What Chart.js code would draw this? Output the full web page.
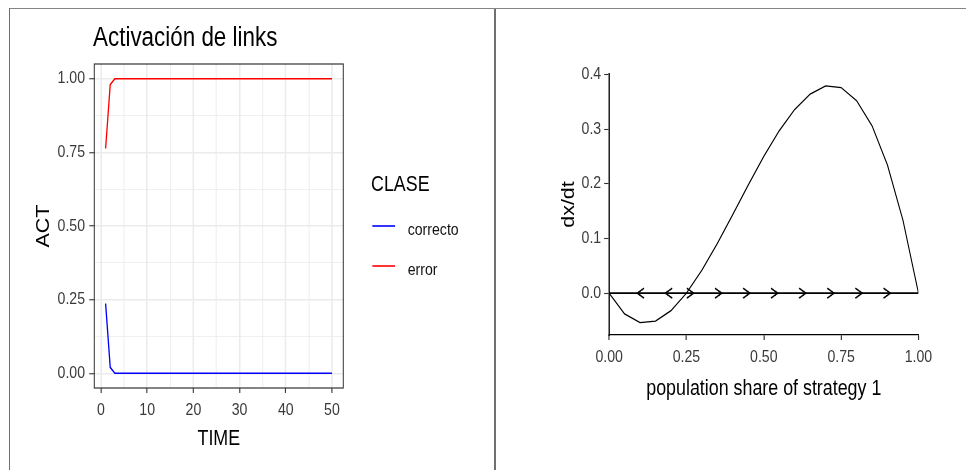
<!DOCTYPE html>
<html>
<head>
<meta charset="utf-8">
<script src="https://cdn.jsdelivr.net/npm/chart.js@4"></script>
<style>
  html, body { margin: 0; padding: 0; background: #fff; width: 970px; height: 470px; overflow: hidden; position: relative; }
  canvas { position: absolute; top: 0; }
  .rule { position: absolute; background: #858585; }
</style>
</head>
<body>
<div class="rule" style="left:9px;top:8px;width:957px;height:1px"></div>
<div class="rule" style="left:9px;top:8px;width:1px;height:462px;background:#6e6e6e"></div>
<div class="rule" style="left:494px;top:9px;width:2px;height:461px;background:#707070"></div>
<canvas id="act" width="595" height="470" style="left:0"></canvas>
<canvas id="flow" width="574" height="470" style="left:494px"></canvas>
<script>
// ---- Activación de links: share of active links per class over time ----
const time = [1,2,3,4,5,6,7,8,9,10,11,12,13,14,15,16,17,18,19,20,21,22,23,24,25,
              26,27,28,29,30,31,32,33,34,35,36,37,38,39,40,41,42,43,44,45,46,47,48,49,50];
const correcto = [0.237,0.020,0,0,0,0,0,0,0,0,0,0,0,0,0,0,0,0,0,0,0,0,0,0,0,
                  0,0,0,0,0,0,0,0,0,0,0,0,0,0,0,0,0,0,0,0,0,0,0,0,0];
const error = [0.763,0.980,1,1,1,1,1,1,1,1,1,1,1,1,1,1,1,1,1,1,1,1,1,1,1,
               1,1,1,1,1,1,1,1,1,1,1,1,1,1,1,1,1,1,1,1,1,1,1,1,1];
const timeTicks = [0,10,20,30,40,50];
const timeLabels = ['0','10','20','30','40','50'];
const timeMinor = [5,15,25,35,45];
const actTicks = [0,0.25,0.5,0.75,1];
const actLabels = ['0.00','0.25','0.50','0.75','1.00'];
const actMinor = [0.125,0.375,0.625,0.875];
const plotTitle = 'Activación de links';
const legendTitle = 'CLASE';

// ---- replicator dynamics: dx/dt against population share of strategy 1 ----
const share = [0,0.05,0.10,0.15,0.20,0.25,0.30,0.35,0.40,0.45,0.50,
               0.55,0.60,0.65,0.70,0.75,0.80,0.85,0.90,0.95,1.00];
const rate = [0,-0.038,-0.054,-0.051,-0.032,0,0.042,0.091,0.144,0.198,0.250,
              0.297,0.336,0.364,0.379,0.376,0.352,0.306,0.234,0.133,0];
const arrowLeft = [0.091,0.182];
const arrowRight = [0.273,0.364,0.455,0.545,0.636,0.727,0.818,0.909];
const shareTicks = [0,0.25,0.5,0.75,1];
const shareLabels = ['0.00','0.25','0.50','0.75','1.00'];
const rateTicks = [0,0.1,0.2,0.3,0.4];
const rateLabels = ['0.0','0.1','0.2','0.3','0.4'];

const FONT = '"Liberation Sans", Arial, Helvetica, sans-serif';
const TICK_TEXT = '#3a3a3a';
// the plots use a condensed look: everything is drawn narrowed horizontally
const NARROW = 0.83;
Chart.defaults.font.family = FONT;

const isIn = (list, v) => list.some(t => Math.abs(t - v) < 1e-9);
const labelFor = (ticks, labels) => v => {
  const i = ticks.findIndex(t => Math.abs(t - v) < 1e-9);
  return i >= 0 ? labels[i] : '';
};

// narrows the whole drawing; an optional extra painter runs before the
// transform is released
function narrowPlugin(extra) {
  return {
    id: 'narrow',
    beforeDraw(chart) {
      const r = chart.currentDevicePixelRatio || 1;
      chart.ctx.save();
      chart.ctx.setTransform(r * NARROW, 0, 0, r, 0, 0);
    },
    afterDraw(chart) {
      if (extra) extra(chart);
      chart.ctx.restore();
    }
  };
}

// panel border, title and legend for the activation plot
function actDecor(chart) {
  const { ctx, chartArea: a } = chart;
  ctx.save();
  ctx.strokeStyle = '#333333';
  ctx.lineWidth = 1.2;
  ctx.strokeRect(a.left, a.top, a.right - a.left, a.bottom - a.top);

  ctx.fillStyle = '#000';
  ctx.textAlign = 'left';
  ctx.textBaseline = 'alphabetic';
  ctx.font = '27px ' + FONT;
  ctx.fillText(plotTitle, a.left - 1.5, 46);

  ctx.font = '21.5px ' + FONT;
  ctx.fillText(legendTitle, a.right + 33.4, 191);
  chart.data.datasets.forEach((ds, i) => {
    const y = 226 + i * 40;
    ctx.strokeStyle = ds.borderColor;
    ctx.lineWidth = 1.6;
    ctx.beginPath();
    ctx.moveTo(a.right + 35, y);
    ctx.lineTo(a.right + 62.4, y);
    ctx.stroke();
    ctx.fillStyle = '#111';
    ctx.font = '17px ' + FONT;
    ctx.fillText(ds.label, a.right + 77.6, y + 9);
  });
  ctx.restore();
}

const gridColor = '#EBEBEB';

function drawActivation() {
  new Chart(document.getElementById('act'), {
    type: 'scatter',
    data: {
      datasets: [
        { label: 'correcto', data: time.map((t, i) => ({ x: t, y: correcto[i] })),
          borderColor: '#0000FF', backgroundColor: '#0000FF', showLine: true, pointRadius: 0, borderWidth: 1.6 },
        { label: 'error', data: time.map((t, i) => ({ x: t, y: error[i] })),
          borderColor: '#FF0000', backgroundColor: '#FF0000', showLine: true, pointRadius: 0, borderWidth: 1.6 }
      ]
    },
    options: {
      responsive: false, animation: false, devicePixelRatio: 1, events: [],
      layout: { padding: { left: 0, right: 181.4, top: 64, bottom: 0 } },
      plugins: { legend: { display: false }, tooltip: { enabled: false }, title: { display: false } },
      scales: {
        x: {
          type: 'linear', position: 'bottom', min: -1.45, max: 52.45,
          afterFit: s => { s.height = 82; },
          afterBuildTicks: s => { s.ticks = timeTicks.concat(timeMinor).sort((p, q) => p - q).map(v => ({ value: v })); },
          ticks: { autoSkip: false, maxRotation: 0, padding: 7.3, color: TICK_TEXT, font: { size: 17 },
                   callback: labelFor(timeTicks, timeLabels) },
          grid: {
            drawOnChartArea: true, drawTicks: true, tickLength: 5, tickWidth: 1.3,
            color: gridColor,
            lineWidth: c => (c.tick && isIn(timeTicks, c.tick.value)) ? 1.8 : 1.0,
            tickColor: c => (c.tick && isIn(timeTicks, c.tick.value)) ? '#333333' : 'rgba(0,0,0,0)'
          },
          border: { display: false },
          title: { display: true, text: 'TIME', color: '#000', font: { size: 21.5 }, padding: { top: 0, bottom: 18.5 } }
        },
        y: {
          type: 'linear', position: 'left', min: -0.05, max: 1.05,
          afterFit: s => { s.width = 113.6; },
          afterBuildTicks: s => { s.ticks = actTicks.concat(actMinor).sort((p, q) => p - q).map(v => ({ value: v })); },
          ticks: { autoSkip: false, padding: 5.2, color: TICK_TEXT, font: { size: 17 },
                   callback: labelFor(actTicks, actLabels) },
          grid: {
            drawOnChartArea: true, drawTicks: true, tickLength: 6, tickWidth: 1.1,
            color: gridColor,
            lineWidth: c => (c.tick && isIn(actTicks, c.tick.value)) ? 1.5 : 0.8,
            tickColor: c => (c.tick && isIn(actTicks, c.tick.value)) ? '#333333' : 'rgba(0,0,0,0)'
          },
          border: { display: false },
          title: { display: true, text: 'ACT', color: '#000', font: { size: 21.5 }, padding: { top: 39.9, bottom: 0 } }
        }
      }
    },
    plugins: [narrowPlugin(actDecor)]
  });
}

// open arrow head, rendered at triple resolution; its tip sits on the point
function chevron(dir) {
  const k = 3, w = 18, h = 13;
  const c = document.createElement('canvas');
  c.width = w * k; c.height = h * k;
  const g = c.getContext('2d');
  g.scale(k, k);
  const cx = 9, cy = 6.5, arm = 8.2, half = 5;
  g.strokeStyle = '#000';
  g.lineWidth = 1.6;
  g.beginPath();
  g.moveTo(cx - dir * arm, cy - half);
  g.lineTo(cx, cy);
  g.lineTo(cx - dir * arm, cy + half);
  g.stroke();
  const img = new Image();
  img.width = w; img.height = h;
  img.src = c.toDataURL();
  return img.decode().then(() => img, () => img);
}

function drawFlow(headLeft, headRight) {
  new Chart(document.getElementById('flow'), {
    type: 'scatter',
    data: {
      datasets: [
        { label: 'dx/dt', data: share.map((x, i) => ({ x, y: rate[i] })),
          showLine: true, borderColor: '#000', backgroundColor: '#000', borderWidth: 1.3, pointRadius: 0 },
        { label: 'rest', data: [{ x: share[0], y: 0 }, { x: share[share.length - 1], y: 0 }],
          showLine: true, borderColor: '#000', backgroundColor: '#000', borderWidth: 1.9, pointRadius: 0 },
        { label: 'towards 0', data: arrowLeft.map(x => ({ x, y: 0 })), pointStyle: headLeft, pointRadius: 5 },
        { label: 'towards 1', data: arrowRight.map(x => ({ x, y: 0 })), pointStyle: headRight, pointRadius: 5 }
      ]
    },
    options: {
      responsive: false, animation: false, devicePixelRatio: 1, events: [],
      layout: { padding: { left: 0, right: 62.6, top: 74, bottom: 0 } },
      plugins: { legend: { display: false }, tooltip: { enabled: false }, title: { display: false } },
      scales: {
        x: {
          type: 'linear', position: 'bottom', min: 0, max: 1,
          afterFit: s => { s.height = 135; },
          afterBuildTicks: s => { s.ticks = shareTicks.map(v => ({ value: v })); },
          ticks: { autoSkip: false, maxRotation: 0, padding: 7.3, color: TICK_TEXT, font: { size: 17 },
                   callback: labelFor(shareTicks, shareLabels) },
          grid: { drawOnChartArea: false, drawTicks: true, tickLength: 5, tickWidth: 1.4, tickColor: '#333333' },
          border: { display: true, color: '#000', width: 1.3 },
          title: { display: true, text: 'population share of strategy 1', color: '#000', font: { size: 21.5 },
                   padding: { top: 0, bottom: 68.5 } }
        },
        y: {
          type: 'linear', position: 'left', min: -0.0765, max: 0.4007,
          afterFit: s => { s.width = 138.7; },
          afterBuildTicks: s => { s.ticks = rateTicks.map(v => ({ value: v })); },
          ticks: { autoSkip: false, padding: 3.6, color: TICK_TEXT, font: { size: 17 },
                   callback: labelFor(rateTicks, rateLabels) },
          grid: { drawOnChartArea: false, drawTicks: true, tickLength: 6, tickWidth: 1.1, tickColor: '#333333' },
          border: { display: true, color: '#000', width: 1.6 },
          title: { display: true, text: 'dx/dt', color: '#000', font: { size: 21.5 }, padding: { top: 77.3, bottom: 0 } }
        }
      }
    },
    plugins: [narrowPlugin(null)]
  });
}

drawActivation();
Promise.all([chevron(-1), chevron(1)]).then(([l, r]) => drawFlow(l, r));
</script>
</body>
</html>
